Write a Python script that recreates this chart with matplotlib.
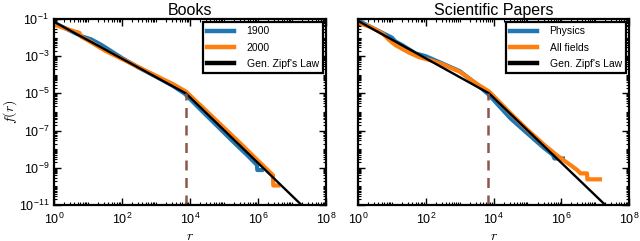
import numpy as np
import matplotlib
matplotlib.use("Agg")
import matplotlib.pyplot as plt
from matplotlib.ticker import LogLocator, NullFormatter

plt.rcParams['mathtext.fontset'] = 'cm'
plt.rcParams['font.family'] = ['Liberation Sans', 'DejaVu Sans']

# ---------------- data (log10 values) ----------------
books_1900_logr = [0.0, 0.5, 0.8, 1.1, 1.4, 1.7, 2.0, 2.5, 3.0, 3.5, 3.85,
                   4.3, 4.8, 5.3, 5.7, 5.97, 5.98, 6.11]
books_1900_logf = [-1.2, -1.65, -1.92, -2.1, -2.4, -2.75, -3.1, -3.62, -4.1, -4.6, -5.02,
                   -5.85, -6.75, -7.65, -8.35, -8.85, -9.12, -9.12]

books_2000_logr = [0.0, 0.4, 0.75, 0.8, 1.0, 1.5, 2.0, 2.5, 3.0, 3.5, 3.88,
                   4.4, 5.0, 5.5, 6.0, 6.3, 6.44, 6.45, 6.6]
books_2000_logf = [-1.3, -1.55, -1.75, -1.95, -2.15, -2.7, -3.15, -3.6, -4.05, -4.5, -4.9,
                   -5.8, -6.85, -7.72, -8.62, -9.15, -9.4, -9.95, -9.95]

books_fit_logr = [0.0, 3.88, 7.28]
books_fit_logf = [-1.15, -5.0, -11.0]
books_break_logr = 3.88

phys_logr = [0.0, 0.4, 0.8, 1.0, 1.1, 1.3, 1.7, 2.0, 2.5, 3.0, 3.5, 3.85,
             4.5, 5.0, 5.5, 5.75, 5.8, 6.05]
phys_logf = [-1.08, -1.45, -1.82, -2.0, -2.2, -2.4, -2.85, -3.0, -3.4, -3.8, -4.5, -5.05,
             -6.34, -7.15, -7.95, -8.3, -8.5, -8.5]

all_logr = [0.0, 0.4, 0.74, 0.9, 1.1, 1.5, 1.8, 2.2, 2.5, 3.0, 3.5, 3.87,
            4.5, 5.0, 5.5, 5.9, 6.27, 6.47, 6.57, 6.76, 6.77, 7.14]
all_logf = [-1.2, -1.45, -1.8, -2.1, -2.4, -2.8, -3.05, -3.25, -3.44, -3.83, -4.48, -4.9,
            -6.07, -6.95, -7.77, -8.37, -8.85, -9.12, -9.3, -9.3, -9.62, -9.62]

papers_fit_logr = [0.0, 3.87, 7.3]
papers_fit_logf = [-1.1, -5.0, -11.0]
papers_break_logr = 3.85

panels = [
    dict(title="Books", series=[("1900", books_1900_logr, books_1900_logf, "#1f77b4"),
                                ("2000", books_2000_logr, books_2000_logf, "#ff7f0e")],
         fit=(books_fit_logr, books_fit_logf), brk=books_break_logr),
    dict(title="Scientific Papers", series=[("Physics", phys_logr, phys_logf, "#1f77b4"),
                                            ("All fields", all_logr, all_logf, "#ff7f0e")],
         fit=(papers_fit_logr, papers_fit_logf), brk=papers_break_logr),
]

fig = plt.figure(figsize=(6.4, 2.41), dpi=100)
W, H = 640, 241
ax_boxes = [(54, 19, 272, 186), (358, 19, 271, 186)]

for i, (p, (x0, y0, w, h)) in enumerate(zip(panels, ax_boxes)):
    ax = fig.add_axes([x0 / W, 1 - (y0 + h) / H, w / W, h / H])
    for lab, lr, lf, c in p["series"]:
        ax.plot(10 ** np.array(lr), 10 ** np.array(lf), color=c, lw=3, label=lab)
    fr, ff = p["fit"]
    ax.plot(10 ** np.array(fr), 10 ** np.array(ff), color='black', lw=1.7, label="Gen. Zipf's Law")
    rb = 10 ** p["brk"]
    fb = 10 ** np.interp(p["brk"], fr, ff)
    ax.plot([rb, rb], [1e-11, fb], color='#8c564b', lw=1.8, ls=(0, (4, 3)))
    ax.set_xscale('log')
    ax.set_yscale('log')
    ax.set_xlim(1, 1e8)
    ax.set_ylim(1e-11, 1e-1)
    ax.set_xticks([1e0, 1e2, 1e4, 1e6, 1e8])
    ax.set_yticks([1e-1, 1e-3, 1e-5, 1e-7, 1e-9, 1e-11])
    ax.xaxis.set_minor_locator(LogLocator(base=10, subs=np.arange(1, 10), numticks=100))
    ax.yaxis.set_minor_locator(LogLocator(base=10, subs=np.arange(1, 10), numticks=100))
    ax.xaxis.set_minor_formatter(NullFormatter())
    ax.yaxis.set_minor_formatter(NullFormatter())
    ax.tick_params(which='both', direction='in', top=True, right=True, labelsize=9)
    ax.tick_params(which='major', length=5, width=1)
    ax.tick_params(which='minor', length=2.5, width=0.8)
    ax.tick_params(axis='x', pad=5)
    for s in ax.spines.values():
        s.set_linewidth(1.6)
    ax.set_title(p["title"], fontsize=11.5, pad=3)
    ax.set_xlabel("$r$", fontsize=10, labelpad=1)
    if i == 0:
        ax.set_ylabel("$f(r)$", fontsize=10, labelpad=0)
    else:
        ax.yaxis.set_major_formatter(NullFormatter())
    leg = ax.legend(loc='upper right', fontsize=7.5, fancybox=False, framealpha=1,
                    edgecolor='black', handlelength=2.6, borderaxespad=0.3,
                    borderpad=0.4, labelspacing=0.6, handletextpad=1.2)
    leg.get_frame().set_linewidth(1.6)
    for ln in leg.get_lines():
        ln.set_linewidth(3.2)

fig.savefig("out.png", dpi=100)
